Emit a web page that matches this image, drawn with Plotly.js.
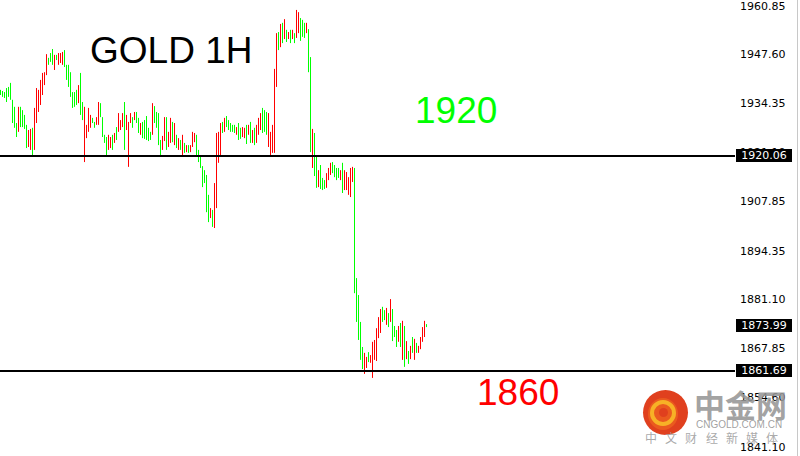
<!DOCTYPE html>
<html><head><meta charset="utf-8">
<script src="https://cdn.plot.ly/plotly-3.0.1.min.js"></script>
<style>html,body{margin:0;padding:0;background:#fff;}#chart{width:800px;height:456px;}</style>
</head><body><div id="chart"></div>
<script>
// Hourly bars: high / low per bar, and bar colour (r = up bar drawn red, g = down bar drawn green)
const high = [
1938.0,1937.7,1937.4,1938.5,1938.8,1939.9,1935.3,1933.4,1929.0,1933.4,
1933.4,1932.5,1931.2,1928.5,1927.1,1927.4,1927.7,1933.1,1938.5,1938.0,
1940.7,1942.6,1942.8,1947.7,1946.7,1948.0,1949.1,1947.5,1947.5,1948.0,
1948.0,1948.3,1948.8,1944.8,1944.8,1942.8,1937.4,1937.4,1938.0,1939.3,
1942.6,1934.7,1933.4,1928.5,1933.1,1931.2,1930.4,1929.3,1930.6,1934.7,
1934.4,1930.6,1925.8,1925.2,1925.8,1925.2,1925.8,1926.3,1927.9,1931.7,
1929.8,1931.7,1934.7,1931.2,1929.3,1931.7,1930.6,1932.0,1932.0,1930.4,
1929.0,1929.3,1929.8,1930.9,1927.7,1926.6,1934.4,1933.6,1932.0,1931.7,
1924.4,1925.5,1930.6,1930.6,1926.6,1930.4,1929.3,1929.0,1925.8,1924.9,
1924.4,1925.8,1923.6,1923.0,1923.0,1923.0,1926.6,1926.3,1925.8,1921.7,
1920.3,1917.3,1916.2,1914.9,1909.5,1905.9,1905.4,1912.7,1926.3,1926.6,
1929.0,1929.3,1930.4,1930.9,1929.8,1929.0,1928.5,1928.5,1927.9,1929.0,
1927.7,1927.9,1927.7,1928.5,1928.5,1929.3,1927.1,1927.7,1928.5,1930.4,
1931.7,1933.1,1932.5,1932.0,1931.7,1926.6,1928.5,1943.7,1953.4,1953.7,
1955.9,1956.2,1957.2,1954.3,1953.7,1954.3,1954.3,1953.4,1959.7,1959.1,
1957.5,1957.0,1956.2,1956.2,1954.5,1946.9,1927.4,1926.3,1919.8,1916.2,
1917.6,1914.1,1913.5,1915.4,1916.8,1918.2,1918.4,1917.6,1916.8,1916.8,
1916.2,1918.2,1916.2,1915.7,1914.3,1916.8,1917.1,1916.8,1886.9,1882.3,
1875.0,1868.2,1866.6,1865.5,1866.8,1866.0,1869.6,1870.1,1873.3,1876.3,
1878.5,1879.1,1878.2,1878.8,1877.4,1881.2,1878.5,1873.9,1872.8,1873.9,
1874.7,1875.3,1873.9,1869.8,1867.1,1868.5,1870.9,1870.4,1869.3,1868.5,
1870.9,1873.6,1875.3,1874.4];
const low = [
1936.6,1936.1,1935.8,1934.7,1936.1,1935.3,1929.0,1927.7,1925.2,1926.6,
1927.9,1927.9,1927.4,1922.2,1922.5,1921.7,1919.8,1921.7,1929.0,1932.0,
1933.9,1936.6,1939.3,1942.0,1944.8,1945.6,1944.8,1943.4,1946.1,1944.8,
1945.3,1944.8,1944.2,1940.7,1938.8,1936.1,1933.1,1933.4,1933.9,1934.4,
1931.2,1929.8,1918.4,1924.9,1926.6,1927.7,1929.0,1927.7,1928.5,1928.5,
1930.6,1925.2,1923.6,1919.8,1921.7,1922.2,1921.7,1923.6,1924.4,1926.6,
1927.1,1927.9,1921.7,1927.1,1917.1,1929.0,1927.7,1929.8,1929.0,1926.3,
1925.8,1924.9,1924.7,1924.4,1924.1,1924.4,1925.8,1929.0,1927.7,1923.0,
1920.3,1921.7,1924.1,1921.7,1922.5,1923.6,1923.8,1923.0,1922.2,1921.7,
1921.7,1920.3,1920.9,1921.1,1920.9,1921.1,1922.5,1923.8,1920.3,1918.4,
1916.8,1911.6,1912.7,1904.8,1902.1,1903.2,1900.8,1900.5,1905.9,1918.2,
1919.8,1926.3,1926.6,1927.9,1927.1,1926.6,1926.6,1926.3,1925.8,1924.4,
1924.7,1925.2,1924.9,1923.3,1925.8,1923.6,1923.6,1923.0,1923.6,1925.8,
1927.1,1926.3,1926.6,1925.8,1922.5,1920.3,1920.9,1920.9,1938.8,1948.8,
1949.6,1950.7,1951.8,1951.0,1951.8,1950.7,1951.8,1950.7,1952.1,1953.4,
1951.3,1952.4,1952.1,1953.4,1942.8,1921.1,1916.8,1914.6,1911.4,1911.6,
1911.1,1910.8,1911.1,1911.4,1913.5,1914.9,1915.4,1914.3,1913.5,1914.1,
1913.5,1910.0,1910.8,1910.8,1909.5,1908.9,1913.0,1882.8,1875.0,1870.1,
1864.7,1862.2,1860.9,1862.5,1864.1,1863.9,1859.8,1864.7,1864.4,1870.6,
1872.0,1875.0,1875.5,1874.2,1873.6,1875.0,1869.8,1870.9,1868.2,1869.6,
1868.2,1864.7,1862.8,1864.9,1863.6,1864.9,1866.6,1864.7,1866.6,1866.6,
1867.6,1869.6,1870.9,1873.6];
const barDir =
"gggggggggr"+"ggggrrgrrr"+"rrrrgggrgr"+"rrgggggggr"+"ggrrrrggrr"+
"ggggrrgrgr"+"rrgrrrgrgg"+"rgggggrggg"+"grrgrrgrgr"+"grgrgrrrgg"+
"gggggrgrrr"+"rgrgggggrg"+"grrgrgrgrr"+"rgggrrrrrg"+"rgrgrgrgrr"+
"gggrggrggr"+"gggrrrgggg"+"rgrrrrrggg"+"ggrrgrrrrr"+"rggrgrgggr"+
"grgrgrgrgr"+"rrrg";

const tickVals = [1960.85,1947.60,1934.35,1921.10,1907.85,1894.35,1881.10,1867.85,1854.60,1841.10];
const tickText = ["1960.85","1947.60","1934.35","1921.10","1907.85","1894.35","1881.10","1867.85","1854.60","1841.10"];
const levelLines = [1920.06, 1861.69];
const lastPrice = 1873.99;
const title = "GOLD 1H";
const levelTexts = ["1920", "1860"];

const n = high.length;
const xs = [], opens = [], closes = [];
for (let i = 0; i < n; i++) {
  xs.push(i);
  const up = barDir[i] === 'r';
  opens.push(up ? low[i] : high[i]);
  closes.push(up ? high[i] : low[i]);
}

const trace = {
  type: 'ohlc', x: xs, open: opens, high: high, low: low, close: closes,
  increasing: {line: {color: '#ff0000', width: 1}},
  decreasing: {line: {color: '#00ff00', width: 1}},
  tickwidth: 0, hoverinfo: 'skip', showlegend: false
};

const W = 800, H = 456, R = 65, PW = W - R;
const px = v => v / PW;           // horizontal pixel -> paper
const py = v => 1 - v / H;        // vertical pixel -> paper

const shapes = [];
levelLines.forEach(v => shapes.push({type:'line', xref:'paper', yref:'y', x0:0, x1:1, y0:v, y1:v, line:{color:'#000', width:2}}));
shapes.push({type:'line', xref:'paper', yref:'paper', x0:px(797.5), x1:px(797.5), y0:0, y1:1, line:{color:'#c8c8c8', width:1}});
// logo
shapes.push({type:'circle', xref:'paper', yref:'paper', x0:px(643), x1:px(688), y0:py(435), y1:py(390), fillcolor:'#e0401e', line:{width:0}});
shapes.push({type:'circle', xref:'paper', yref:'paper', x0:px(648), x1:px(678), y0:py(430), y1:py(398), fillcolor:'#ea5a1f', line:{width:0}});
shapes.push({type:'circle', xref:'paper', yref:'paper', x0:px(652), x1:px(674), y0:py(424), y1:py(402), fillcolor:'rgba(0,0,0,0)', line:{color:'#f7b126', width:4}});
shapes.push({type:'circle', xref:'paper', yref:'paper', x0:px(659), x1:px(668), y0:py(417), y1:py(408), fillcolor:'#e0401e', line:{width:0}});

const annotations = [];
[levelLines[0], lastPrice, levelLines[1]].forEach(v => annotations.push({
  xref:'paper', x:1, xanchor:'left', xshift:1, yref:'y', y:v, yanchor:'middle',
  text: v.toFixed(2), showarrow:false, bgcolor:'#000', borderwidth:0, borderpad:0,
  width:56, height:13, font:{family:'DejaVu Sans', size:11, color:'#fff'}
}));
annotations.push({xref:'paper', yref:'paper', x:px(88), y:py(50.5), xanchor:'left', yanchor:'middle', text:title, showarrow:false,
  font:{family:'Liberation Sans', size:37, color:'#000'}});
annotations.push({xref:'paper', yref:'paper', x:px(413), y:py(110.5), xanchor:'left', yanchor:'middle', text:levelTexts[0], showarrow:false,
  font:{family:'Liberation Sans', size:37, color:'#00ff00'}});
annotations.push({xref:'paper', yref:'paper', x:px(475), y:py(392), xanchor:'left', yanchor:'middle', text:levelTexts[1], showarrow:false,
  font:{family:'Liberation Sans', size:37, color:'#ff0000'}});
// watermark text
annotations.push({xref:'paper', yref:'paper', x:px(692), y:py(403), xanchor:'left', yanchor:'middle', text:'<b>中金网</b>', showarrow:false,
  font:{family:'Noto Sans CJK SC', size:31, color:'rgba(150,150,150,0.88)'}});
annotations.push({xref:'paper', yref:'paper', x:px(694), y:py(424), xanchor:'left', yanchor:'middle', text:'CNGOLD.COM.CN', showarrow:false,
  font:{family:'Liberation Sans', size:10, color:'rgba(150,150,150,0.9)'}});
const slogan = ['中','文','财','经','新','媒','体'];
slogan.forEach((c, k) => annotations.push({xref:'paper', yref:'paper', x:px(651 + 20.2*k), y:py(437.5), xanchor:'center', yanchor:'middle', text:c, showarrow:false,
  font:{family:'Noto Sans CJK SC', size:12, color:'rgba(160,160,160,0.9)'}}));

const layout = {
  width: W, height: H, margin: {l:0, r:R, t:0, b:0, pad:0},
  paper_bgcolor:'#fff', plot_bgcolor:'#fff', showlegend:false,
  xaxis: {range:[-0.25, PW/2 - 0.25], visible:false, rangeslider:{visible:false}, fixedrange:true},
  yaxis: {side:'right', range:[1838.6, 1962.4], tickmode:'array', tickvals:tickVals, ticktext:tickText,
    ticks:'', showgrid:false, zeroline:false, showline:false, ticklabelstandoff:4, ticklabeloverflow:'allow',
    tickfont:{family:'DejaVu Sans', size:11, color:'#000'}, fixedrange:true},
  shapes: shapes, annotations: annotations
};
Plotly.newPlot('chart', [trace], layout, {staticPlot:true, displayModeBar:false});
</script></body></html>
